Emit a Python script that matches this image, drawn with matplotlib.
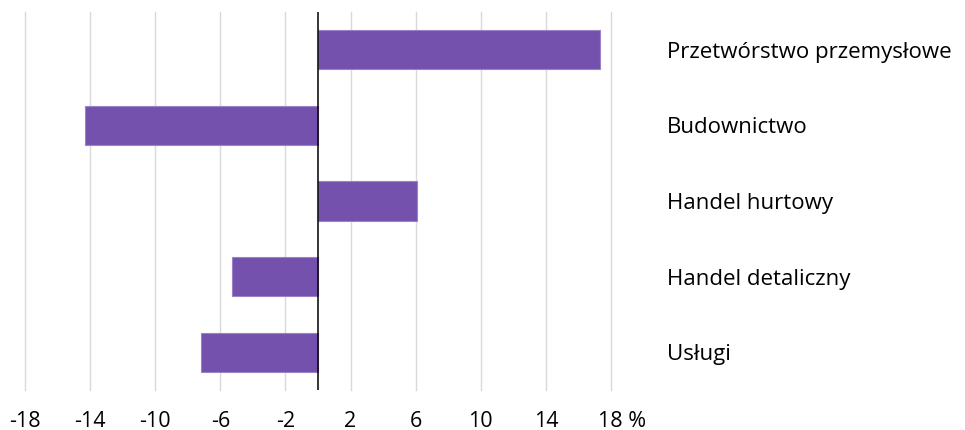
import matplotlib
matplotlib.use("Agg")
import matplotlib.pyplot as plt
import matplotlib.transforms as mtransforms

categories = ["Przetwórstwo przemysłowe", "Budownictwo", "Handel hurtowy",
              "Handel detaliczny", "Usługi"]
values = [17.3, -14.3, 6.1, -5.3, -7.2]
xticks = [-18, -14, -10, -6, -2, 2, 6, 10, 14, 18]
xtick_labels = ["-18", "-14", "-10", "-6", "-2", "2", "6", "10", "14", "18 %"]

plt.rcParams['font.family'] = ['Open Sans', 'DejaVu Sans']

fig = plt.figure(figsize=(9.65, 4.3), dpi=100)
ax = fig.add_axes([25/965, 40/430, (611-25)/965, (390-12)/430])

ypos = list(range(len(categories)))
ax.barh(ypos, values, height=0.52, color="#7451AD", edgecolor="#9B82C8", linewidth=0.8, zorder=3)

ax.set_xlim(-18, 18)
ax.set_ylim(len(categories) - 0.5, -0.5)
ax.set_xticks(xticks)
ax.set_xticklabels(xtick_labels, fontsize=15.5)
for x in xticks:
    ax.axvline(x, color="#D9D9D9", linewidth=1, zorder=1, clip_on=False)
ax.axvline(0, color="black", linewidth=1.1, zorder=4)

ax.yaxis.tick_right()
ax.set_yticks(ypos)
ax.set_yticklabels(categories, fontsize=16)
ax.tick_params(axis='y', length=0, pad=40)
ax.tick_params(axis='x', length=0, pad=15)

# center the number of the last tick label ("18") on its tick, "%" trailing
last = ax.get_xticklabels()[-1]
last.set_horizontalalignment('left')
last.set_transform(last.get_transform() + mtransforms.ScaledTranslation(-12.5/100, 0, fig.dpi_scale_trans))

for s in ax.spines.values():
    s.set_visible(False)

fig.savefig("out.png", dpi=100)
